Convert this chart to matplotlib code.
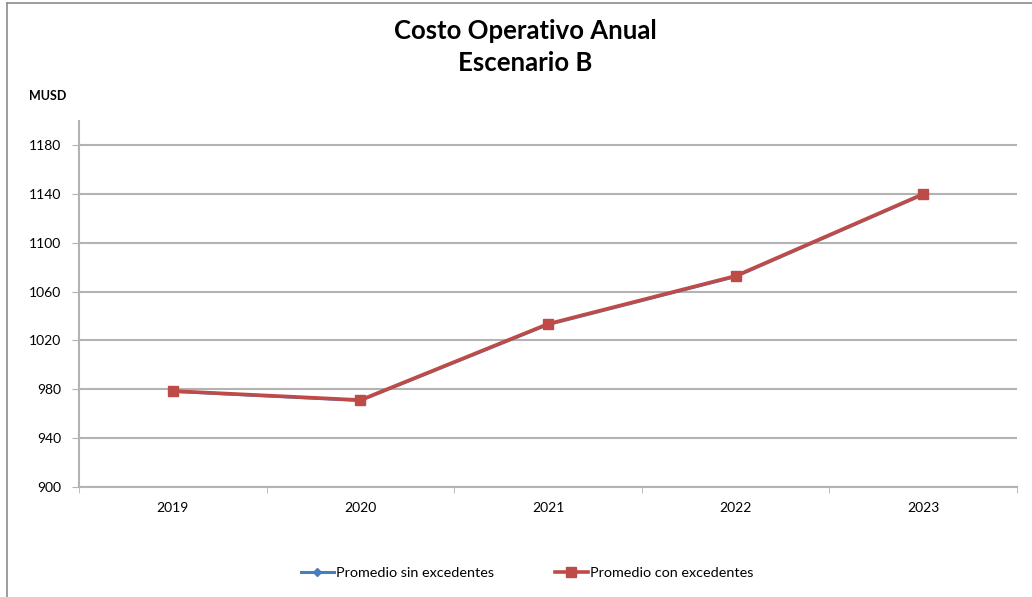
import matplotlib

matplotlib.use("Agg")

import matplotlib.pyplot as plt
from matplotlib.lines import Line2D
import numpy as np

plt.rcParams["font.family"] = ["Lato", "DejaVu Sans"]

years = ["2019", "2020", "2021", "2022", "2023"]
sin_excedentes = [978.3, 970.8, 1033.0, 1072.3, 1139.5]
con_excedentes = [978.6, 971.2, 1033.5, 1072.8, 1139.9]
y_ticks = [900, 940, 980, 1020, 1060, 1100, 1140, 1180]

BLUE = "#4a7ebb"
RED = "#be4b48"
GRID = "#b3b3b3"

fig = plt.figure(figsize=(10.32, 5.97), dpi=100)
ax = fig.add_axes([79 / 1032, 110 / 597, 938 / 1032, 366.4 / 597])

x = np.arange(len(years))
ax.plot(x, sin_excedentes, color=BLUE, lw=2.2, marker="D", ms=4,
        label="Promedio sin excedentes", zorder=3)
ax.plot(x, con_excedentes, color=RED, lw=2.6, marker="s", ms=6.5,
        label="Promedio con excedentes", zorder=4)

ax.set_xlim(-0.5, len(years) - 0.5)
ax.set_ylim(900, 1200)
ax.set_yticks(y_ticks)
ax.set_yticklabels([str(v) for v in y_ticks], fontsize=10)
ax.set_xticks(x)
ax.set_xticklabels(years, fontsize=10)
# category boundaries get the small tick marks
ax.set_xticks(np.arange(-0.5, len(years)), minor=True)
ax.tick_params(axis="x", which="major", length=0, pad=11)
ax.tick_params(axis="x", which="minor", length=4, color=GRID, direction="out")
ax.tick_params(axis="y", length=5, color=GRID, pad=8)

ax.grid(axis="y", color=GRID, lw=1.5)
ax.set_axisbelow(True)
for side in ("top", "right"):
    ax.spines[side].set_visible(False)
for side in ("left", "bottom"):
    ax.spines[side].set_color(GRID)
    ax.spines[side].set_linewidth(1.5)

fig.text(525 / 1032, 1 - 31 / 597, "Costo Operativo Anual", ha="center", va="center",
         fontsize=18.5, fontweight="bold")
fig.text(525 / 1032, 1 - 63 / 597, "Escenario B", ha="center", va="center",
         fontsize=18.5, fontweight="bold")
fig.text(29 / 1032, 1 - 96 / 597, "MUSD", ha="left", va="center",
         fontsize=9, fontweight="bold")

ax.legend(loc="center", bbox_to_anchor=(527 / 1032, 1 - 573 / 597), bbox_transform=fig.transFigure,
          ncol=2, frameon=False, fontsize=10.4, handlelength=2.3, columnspacing=4.2,
          handletextpad=0.15)

# outer chart-area frame
fig.add_artist(Line2D([7 / 1032, 7 / 1032], [0, 1 - 3 / 597], color="#8c8c8c", lw=1.2))
fig.add_artist(Line2D([7 / 1032, 1], [1 - 3 / 597, 1 - 3 / 597], color="#8c8c8c", lw=1.2))

fig.savefig("out.png", dpi=100)
